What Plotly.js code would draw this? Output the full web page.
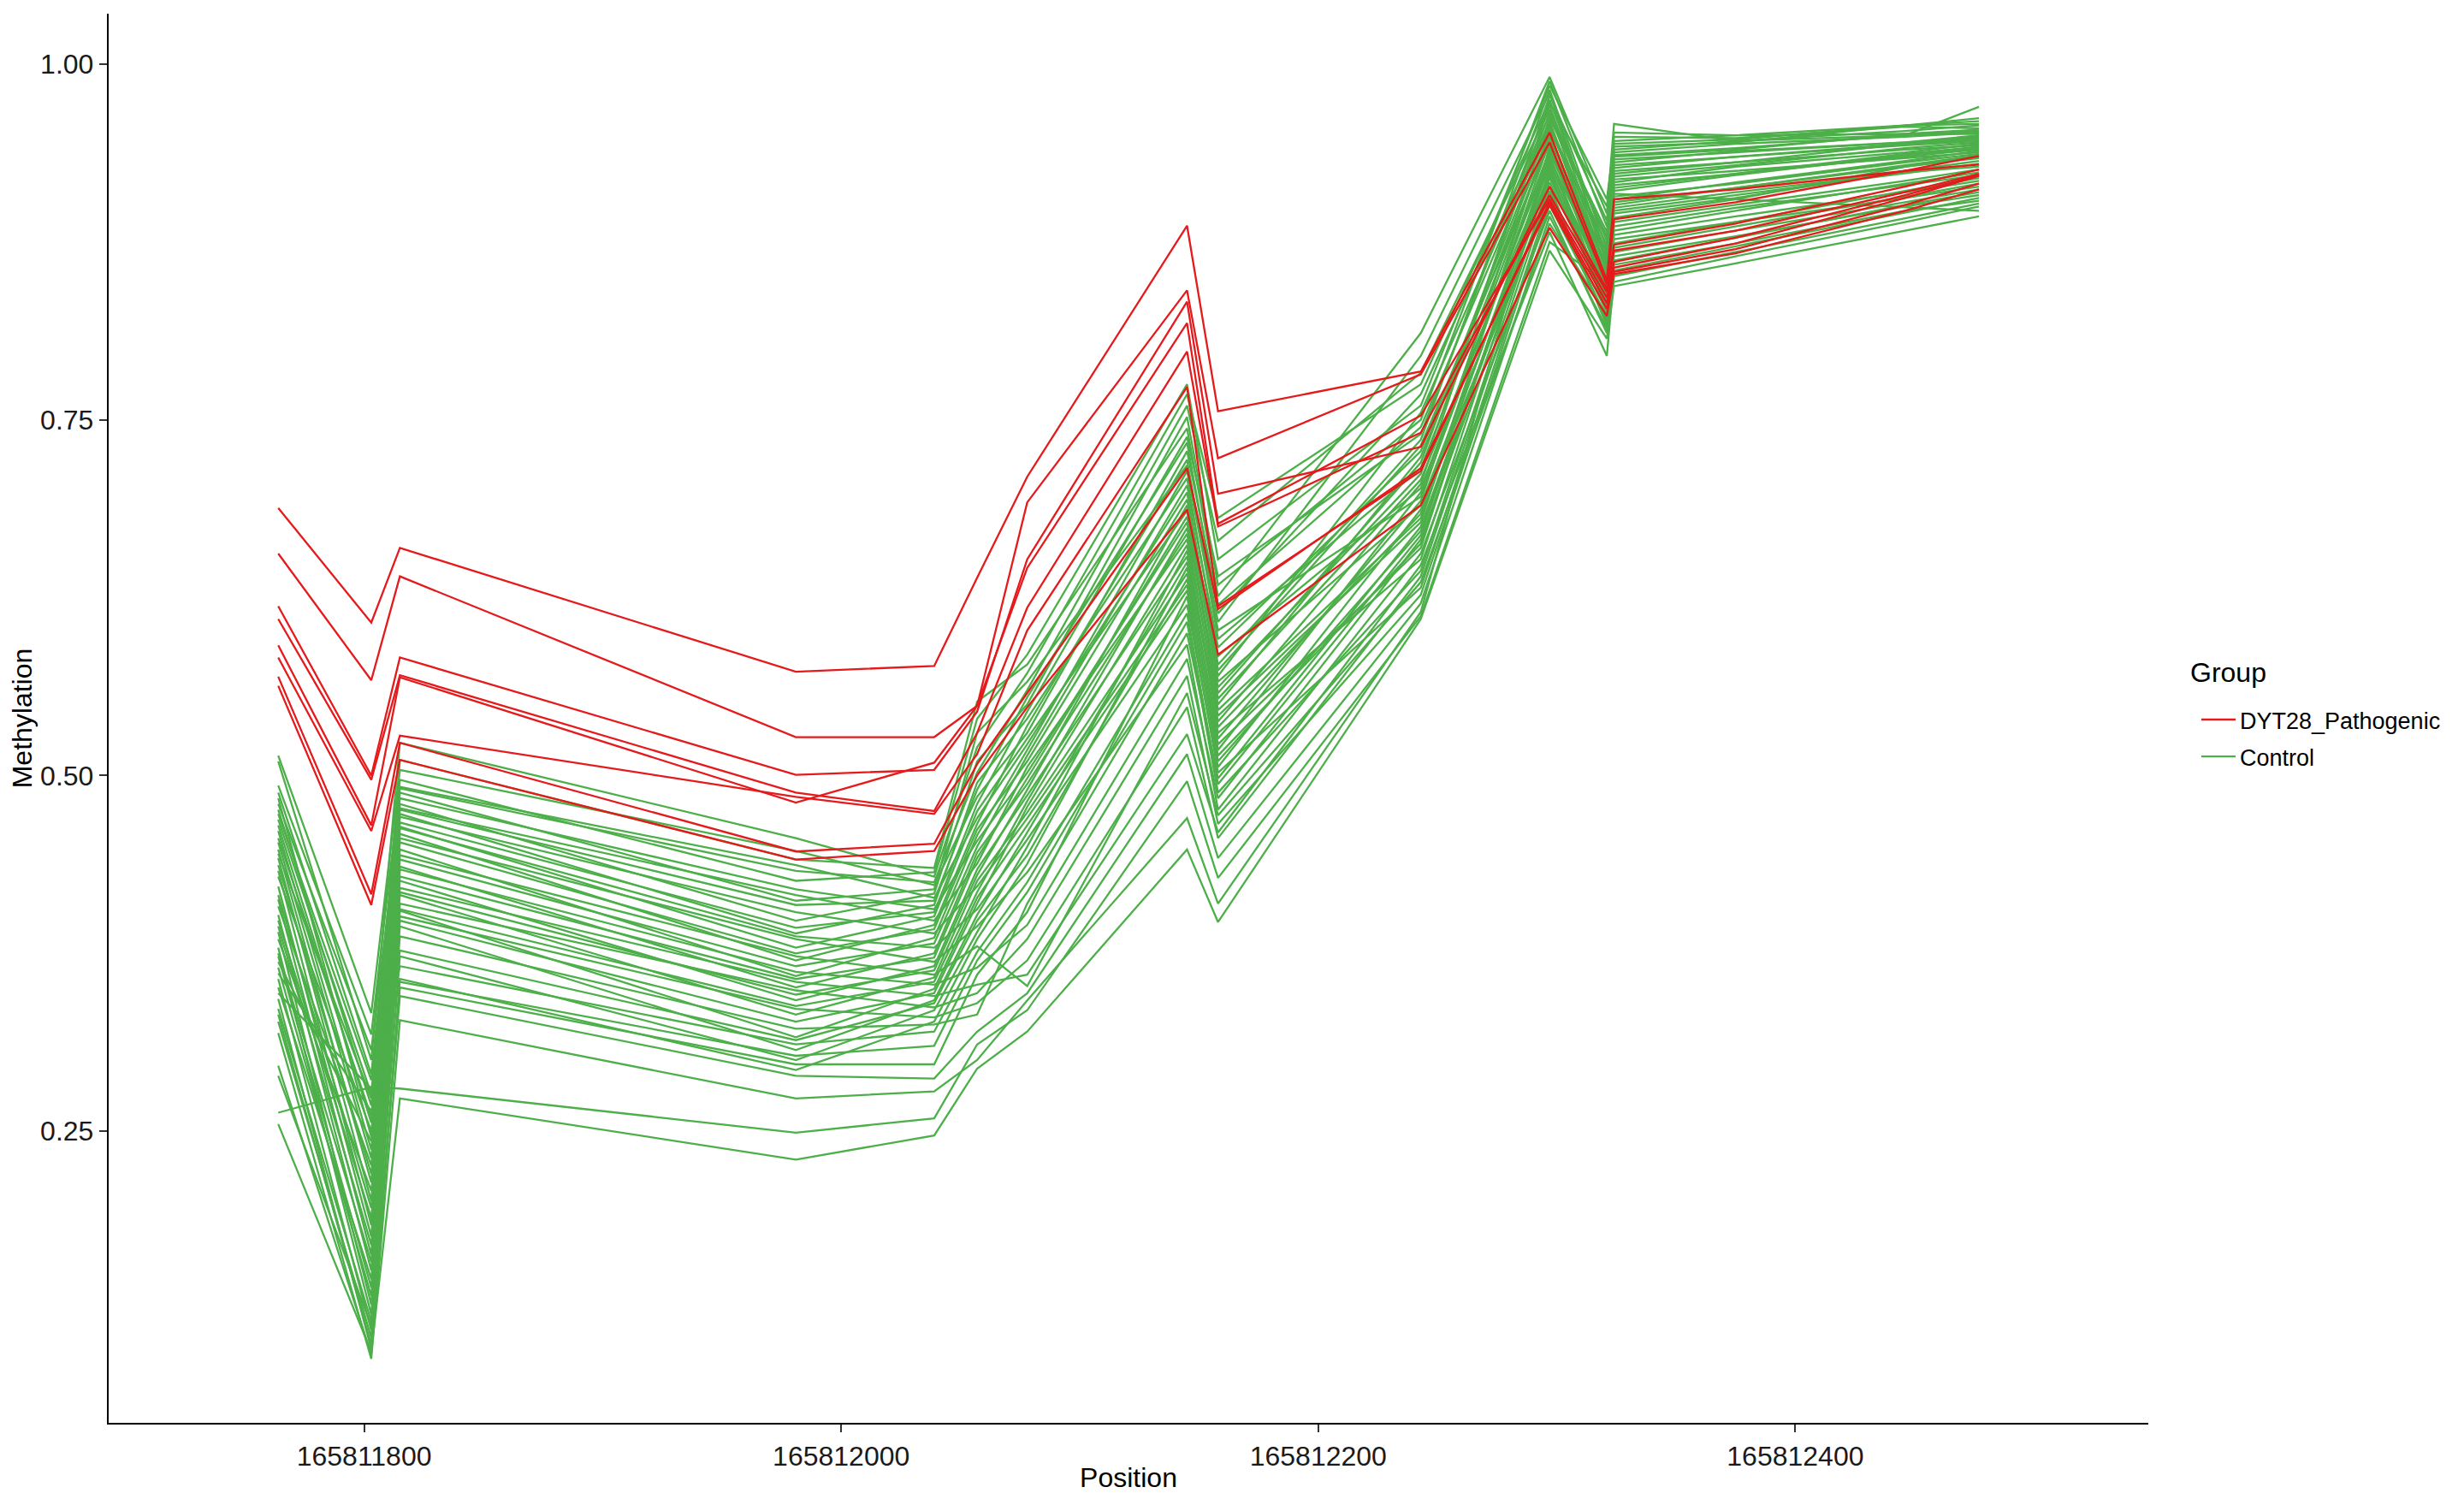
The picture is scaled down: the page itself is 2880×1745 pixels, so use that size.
<!DOCTYPE html>
<html><head><meta charset="utf-8">
<script src="https://cdn.plot.ly/plotly-3.0.1.min.js"></script>
<style>html,body{margin:0;padding:0;background:#fff}#chart{width:2880px;height:1745px}</style>
</head><body><div id="chart"></div>
<script>
// CpG positions (x)
const positions = [165811764, 165811803, 165811815, 165811981, 165812039, 165812057, 165812078, 165812145, 165812158, 165812243, 165812297, 165812321, 165812324, 165812375, 165812446, 165812477];

const legendTitle = 'Group';
const groupNames = ['DYT28_Pathogenic', 'Control'];
const groupColors = ['#E41A1C', '#4DAF4A'];

// Methylation per sample, DYT28_Pathogenic group (one row per sample, one value per position)
const pathogenic = [
  [0.688, 0.6075, 0.660, 0.573, 0.577, 0.639, 0.710, 0.8865, 0.756, 0.784, 0.952, 0.848, 0.905, 0.912, 0.925, 0.9295],
  [0.656, 0.567, 0.640, 0.527, 0.527, 0.549, 0.692, 0.841, 0.723, 0.782, 0.945, 0.845, 0.891, 0.903, 0.925, 0.9355],
  [0.619, 0.500, 0.583, 0.5005, 0.504, 0.545, 0.652, 0.833, 0.698, 0.731, 0.914, 0.842, 0.873, 0.888, 0.914, 0.926],
  [0.610, 0.497, 0.5705, 0.488, 0.475, 0.530, 0.618, 0.798, 0.675, 0.741, 0.908, 0.840, 0.869, 0.883, 0.910, 0.923],
  [0.5915, 0.465, 0.569, 0.481, 0.509, 0.549, 0.646, 0.818, 0.677, 0.753, 0.905, 0.836, 0.861, 0.878, 0.908, 0.922],
  [0.583, 0.461, 0.528, 0.485, 0.473, 0.515, 0.602, 0.773, 0.619, 0.714, 0.903, 0.832, 0.857, 0.874, 0.906, 0.9215],
  [0.5695, 0.4165, 0.523, 0.4466, 0.452, 0.508, 0.558, 0.716, 0.617, 0.716, 0.901, 0.828, 0.854, 0.870, 0.901, 0.916],
  [0.563, 0.409, 0.511, 0.441, 0.447, 0.500, 0.548, 0.687, 0.585, 0.690, 0.885, 0.823, 0.8525, 0.867, 0.897, 0.912]
];

// Methylation per sample, Control group
const control = [
  [0.510, 0.300, 0.523, 0.456, 0.429, 0.520, 0.572, 0.768, 0.681, 0.775, 0.975, 0.866, 0.936, 0.941, 0.950, 0.953],
  [0.484, 0.246, 0.511, 0.441, 0.435, 0.552, 0.578, 0.744, 0.626, 0.811, 0.991, 0.895, 0.958, 0.946, 0.950, 0.970],
  [0.514, 0.333, 0.504, 0.447, 0.423, 0.485, 0.530, 0.728, 0.620, 0.745, 0.958, 0.850, 0.911, 0.922, 0.936, 0.941],
  [0.469, 0.276, 0.497, 0.426, 0.432, 0.540, 0.585, 0.775, 0.652, 0.760, 0.985, 0.905, 0.944, 0.947, 0.957, 0.958],
  [0.493, 0.318, 0.492, 0.437, 0.414, 0.470, 0.522, 0.699, 0.574, 0.732, 0.944, 0.836, 0.899, 0.910, 0.924, 0.928],
  [0.448, 0.214, 0.491, 0.433, 0.425, 0.502, 0.560, 0.760, 0.665, 0.783, 0.968, 0.876, 0.931, 0.939, 0.945, 0.950],
  [0.476, 0.268, 0.488, 0.412, 0.420, 0.530, 0.566, 0.718, 0.608, 0.795, 0.980, 0.862, 0.942, 0.945, 0.957, 0.960],
  [0.488, 0.290, 0.484, 0.420, 0.406, 0.454, 0.502, 0.678, 0.554, 0.708, 0.928, 0.829, 0.886, 0.899, 0.915, 0.922],
  [0.433, 0.184, 0.480, 0.398, 0.417, 0.510, 0.550, 0.752, 0.634, 0.750, 0.988, 0.886, 0.949, 0.948, 0.956, 0.955],
  [0.461, 0.237, 0.477, 0.416, 0.398, 0.438, 0.506, 0.666, 0.550, 0.724, 0.952, 0.848, 0.917, 0.928, 0.938, 0.944],
  [0.480, 0.307, 0.476, 0.409, 0.412, 0.490, 0.555, 0.734, 0.614, 0.768, 0.964, 0.882, 0.938, 0.944, 0.949, 0.952],
  [0.413, 0.163, 0.473, 0.389, 0.409, 0.495, 0.540, 0.709, 0.584, 0.702, 0.936, 0.832, 0.892, 0.905, 0.928, 0.935],
  [0.465, 0.256, 0.471, 0.404, 0.389, 0.422, 0.470, 0.634, 0.510, 0.672, 0.920, 0.839, 0.877, 0.889, 0.906, 0.914],
  [0.442, 0.201, 0.467, 0.393, 0.404, 0.480, 0.545, 0.738, 0.640, 0.740, 0.973, 0.900, 0.946, 0.950, 0.957, 0.962],
  [0.473, 0.286, 0.464, 0.379, 0.401, 0.475, 0.526, 0.686, 0.570, 0.755, 0.960, 0.854, 0.923, 0.931, 0.944, 0.947],
  [0.390, 0.128, 0.463, 0.387, 0.379, 0.406, 0.455, 0.620, 0.506, 0.687, 0.908, 0.820, 0.865, 0.879, 0.900, 0.908],
  [0.453, 0.231, 0.459, 0.370, 0.395, 0.466, 0.535, 0.722, 0.596, 0.716, 0.948, 0.858, 0.927, 0.935, 0.944, 0.949],
  [0.422, 0.176, 0.456, 0.385, 0.369, 0.394, 0.432, 0.592, 0.476, 0.656, 0.897, 0.811, 0.859, 0.874, 0.897, 0.904],
  [0.456, 0.260, 0.453, 0.375, 0.392, 0.462, 0.510, 0.694, 0.578, 0.736, 0.982, 0.870, 0.935, 0.940, 0.951, 0.954],
  [0.373, 0.140, 0.448, 0.359, 0.386, 0.458, 0.518, 0.714, 0.602, 0.696, 0.940, 0.842, 0.905, 0.917, 0.932, 0.939],
  [0.437, 0.220, 0.444, 0.373, 0.360, 0.380, 0.352, 0.558, 0.472, 0.636, 0.888, 0.824, 0.868, 0.883, 0.903, 0.912],
  [0.402, 0.152, 0.441, 0.366, 0.382, 0.450, 0.514, 0.704, 0.590, 0.728, 0.956, 0.873, 0.940, 0.946, 0.953, 0.957],
  [0.445, 0.273, 0.436, 0.351, 0.375, 0.446, 0.494, 0.670, 0.546, 0.681, 0.932, 0.833, 0.895, 0.906, 0.925, 0.932],
  [0.357, 0.110, 0.434, 0.362, 0.353, 0.365, 0.395, 0.582, 0.484, 0.666, 0.914, 0.816, 0.855, 0.872, 0.896, 0.906],
  [0.416, 0.196, 0.429, 0.357, 0.372, 0.442, 0.498, 0.682, 0.558, 0.720, 0.966, 0.856, 0.921, 0.929, 0.941, 0.945],
  [0.429, 0.250, 0.426, 0.342, 0.366, 0.434, 0.486, 0.654, 0.538, 0.705, 0.978, 0.890, 0.952, 0.950, 0.951, 0.951],
  [0.379, 0.121, 0.421, 0.355, 0.345, 0.353, 0.360, 0.529, 0.460, 0.648, 0.882, 0.795, 0.851, 0.868, 0.892, 0.902],
  [0.394, 0.170, 0.418, 0.346, 0.363, 0.430, 0.490, 0.690, 0.566, 0.690, 0.924, 0.827, 0.880, 0.893, 0.910, 0.918],
  [0.408, 0.226, 0.416, 0.332, 0.358, 0.426, 0.474, 0.642, 0.518, 0.699, 0.950, 0.845, 0.913, 0.923, 0.937, 0.942],
  [0.343, 0.097, 0.410, 0.349, 0.337, 0.347, 0.385, 0.570, 0.466, 0.627, 0.901, 0.822, 0.862, 0.878, 0.901, 0.910],
  [0.398, 0.189, 0.406, 0.338, 0.355, 0.418, 0.482, 0.674, 0.562, 0.712, 0.971, 0.860, 0.933, 0.938, 0.945, 0.948],
  [0.365, 0.134, 0.405, 0.316, 0.350, 0.414, 0.465, 0.630, 0.514, 0.663, 0.934, 0.849, 0.907, 0.916, 0.931, 0.937],
  [0.385, 0.208, 0.401, 0.336, 0.330, 0.340, 0.370, 0.548, 0.456, 0.640, 0.911, 0.818, 0.871, 0.886, 0.907, 0.916],
  [0.327, 0.105, 0.398, 0.327, 0.347, 0.410, 0.478, 0.662, 0.534, 0.684, 0.946, 0.840, 0.901, 0.913, 0.929, 0.936],
  [0.375, 0.158, 0.394, 0.307, 0.342, 0.402, 0.460, 0.650, 0.526, 0.693, 0.962, 0.879, 0.929, 0.935, 0.943, 0.946],
  [0.351, 0.146, 0.387, 0.322, 0.325, 0.332, 0.410, 0.600, 0.498, 0.675, 0.922, 0.830, 0.889, 0.901, 0.918, 0.926],
  [0.369, 0.243, 0.377, 0.314, 0.340, 0.398, 0.444, 0.638, 0.522, 0.660, 0.938, 0.852, 0.915, 0.923, 0.935, 0.940],
  [0.336, 0.116, 0.373, 0.300, 0.335, 0.390, 0.450, 0.658, 0.542, 0.678, 0.954, 0.868, 0.925, 0.931, 0.940, 0.943],
  [0.361, 0.264, 0.366, 0.311, 0.320, 0.376, 0.425, 0.614, 0.494, 0.669, 0.930, 0.843, 0.903, 0.913, 0.928, 0.934],
  [0.296, 0.093, 0.357, 0.293, 0.327, 0.385, 0.438, 0.646, 0.530, 0.652, 0.926, 0.838, 0.897, 0.908, 0.923, 0.930],
  [0.347, 0.280, 0.355, 0.303, 0.310, 0.370, 0.418, 0.608, 0.488, 0.644, 0.917, 0.835, 0.883, 0.897, 0.916, 0.924],
  [0.332, 0.100, 0.351, 0.297, 0.297, 0.360, 0.404, 0.626, 0.502, 0.632, 0.905, 0.826, 0.874, 0.889, 0.911, 0.920],
  [0.289, 0.113, 0.345, 0.289, 0.287, 0.320, 0.347, 0.515, 0.442, 0.621, 0.893, 0.814, 0.847, 0.865, 0.889, 0.900],
  [0.319, 0.090, 0.328, 0.273, 0.278, 0.300, 0.342, 0.470, 0.410, 0.615, 0.942, 0.864, 0.919, 0.925, 0.934, 0.938],
  [0.263, 0.281, 0.280, 0.249, 0.259, 0.311, 0.335, 0.496, 0.428, 0.612, 0.875, 0.846, 0.909, 0.905, 0.899, 0.897],
  [0.255, 0.095, 0.273, 0.230, 0.247, 0.294, 0.320, 0.448, 0.397, 0.610, 0.869, 0.807, 0.844, 0.860, 0.883, 0.893]
];

const xTickVals = [165811800, 165812000, 165812200, 165812400];
const xTickText = ['165811800', '165812000', '165812200', '165812400'];
const yTickVals = [0.25, 0.50, 0.75, 1.00];
const yTickText = ['0.25', '0.50', '0.75', '1.00'];

const traces = [];
control.forEach(function (row, i) {
  traces.push({
    type: 'scatter', mode: 'lines', x: positions, y: row,
    line: { color: groupColors[1], width: 2.3 },
    name: groupNames[1], legendgroup: 'control', legendrank: 2,
    showlegend: i === 0, hoverinfo: 'skip'
  });
});
pathogenic.forEach(function (row, i) {
  traces.push({
    type: 'scatter', mode: 'lines', x: positions, y: row,
    line: { color: groupColors[0], width: 2.3 },
    name: groupNames[0], legendgroup: 'pathogenic', legendrank: 1,
    showlegend: i === 0, hoverinfo: 'skip'
  });
});

const FONT = '"Liberation Sans", Arial, Helvetica, sans-serif';
const layout = {
  width: 2880, height: 1745,
  margin: { l: 127, r: 369, t: 16, b: 82, pad: 0 },
  paper_bgcolor: '#ffffff', plot_bgcolor: '#ffffff',
  font: { family: FONT, color: '#000000', size: 32 },
  showlegend: true,
  xaxis: {
    range: [165811692.9, 165812548], autorange: false,
    tickmode: 'array', tickvals: xTickVals, ticktext: xTickText,
    ticks: 'outside', ticklen: 9, tickwidth: 2, tickcolor: '#333333',
    showline: true, linecolor: '#000000', linewidth: 2.2, mirror: false,
    showgrid: false, zeroline: false,
    tickfont: { family: FONT, size: 32, color: '#1a1a1a' },
    automargin: false,
    title: { text: 'Position', font: { family: FONT, size: 32, color: '#000' }, standoff: 4 }
  },
  yaxis: {
    range: [0.045, 1.0355], autorange: false,
    tickmode: 'array', tickvals: yTickVals, ticktext: yTickText,
    ticks: 'outside', ticklen: 9, tickwidth: 2, tickcolor: '#333333',
    showline: true, linecolor: '#000000', linewidth: 2.2,
    showgrid: false, zeroline: false,
    tickfont: { family: FONT, size: 32, color: '#1a1a1a' },
    automargin: false,
    title: { text: 'Methylation', font: { family: FONT, size: 32, color: '#000' }, standoff: 0 }
  },
  legend: {
    x: 1.0239, xanchor: 'left', y: 0.5137, yanchor: 'top',
    bgcolor: 'rgba(0,0,0,0)', borderwidth: 0,
    font: { family: FONT, size: 27, color: '#000' },
    tracegroupgap: 5, itemwidth: 40, traceorder: 'grouped'
  },
  annotations: [{
    text: legendTitle, xref: 'paper', yref: 'paper',
    x: 1.0197, xanchor: 'left', y: 0.5325, yanchor: 'middle',
    showarrow: false, font: { family: FONT, size: 32, color: '#000' }
  }]
};

Plotly.newPlot('chart', traces, layout, { staticPlot: true, displayModeBar: false });
</script>
</body></html>
